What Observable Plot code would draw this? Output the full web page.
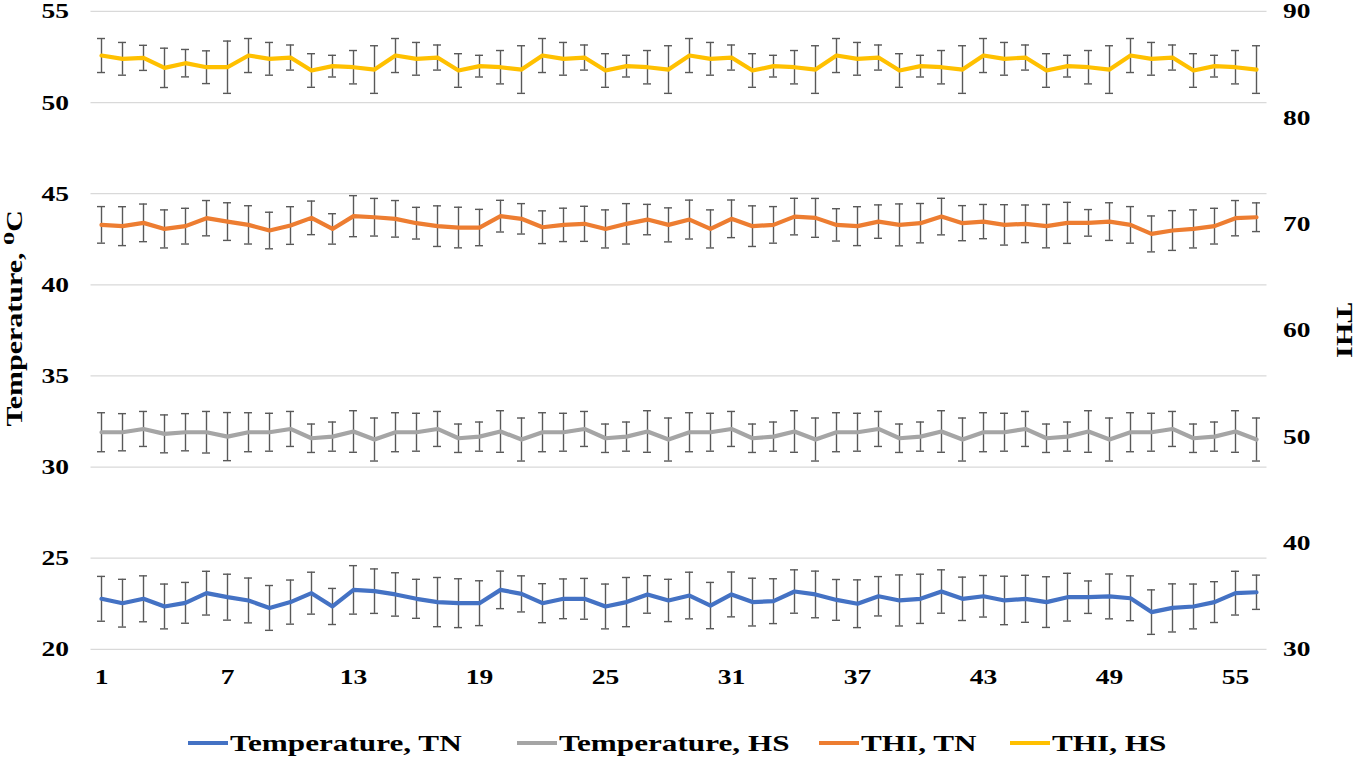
<!DOCTYPE html>
<html>
<head>
<meta charset="utf-8">
<script src="https://cdn.jsdelivr.net/npm/d3@7"></script>
<script src="https://cdn.jsdelivr.net/npm/@observablehq/plot@0.6"></script>
<style>
  html, body { margin: 0; padding: 0; background: #fff; }
  #wrap { width: 1359px; height: 760px; position: relative; overflow: hidden; font-family: "Liberation Serif", "DejaVu Serif", serif; }
  #legend { position: absolute; left: 0; top: 726px; width: 1359px; height: 34px; font-weight: bold; font-size: 24px; color: #000; }
  .sw { position: absolute; top: 15px; width: 40px; height: 4px; }
  .tx { position: absolute; top: 1px; white-space: nowrap; transform: scaleX(1.3); transform-origin: left center; line-height: 32px; }
</style>
</head>
<body>
<div id="wrap"><div id="chart"></div><div id="legend"></div></div>
<script>
const days = [1,2,3,4,5,6,7,8,9,10,11,12,13,14,15,16,17,18,19,20,21,22,23,24,25,26,27,28,29,30,31,32,33,34,35,36,37,38,39,40,41,42,43,44,45,46,47,48,49,50,51,52,53,54,55,56];
const xTicks = [1,7,13,19,25,31,37,43,49,55];
const tempTicks = [20,25,30,35,40,45,50,55];
const thiTicks = [30,40,50,60,70,80,90];

const seriesNames = ["Temperature, TN","Temperature, HS","THI, TN","THI, HS"];
const seriesColors = ["#4472C4","#A5A5A5","#ED7D31","#FFC000"];

const tempTN = [22.77,22.53,22.77,22.35,22.55,23.08,22.86,22.68,22.27,22.59,23.08,22.35,23.26,23.19,23.01,22.77,22.59,22.53,22.53,23.26,23.04,22.53,22.77,22.77,22.35,22.59,23.01,22.68,22.95,22.40,23.01,22.59,22.64,23.17,23.01,22.71,22.50,22.91,22.68,22.77,23.17,22.77,22.91,22.68,22.77,22.59,22.86,22.86,22.90,22.80,22.04,22.27,22.35,22.59,23.08,23.13];
const tempTNsd = [1.23,1.31,1.26,1.23,1.12,1.20,1.26,1.23,1.23,1.21,1.15,0.99,1.33,1.22,1.19,1.07,1.35,1.34,1.23,1.03,0.99,1.07,1.09,1.12,1.23,1.35,1.03,1.16,1.28,1.27,1.23,1.31,1.23,1.19,1.28,1.12,1.31,1.08,1.40,1.35,1.19,1.19,1.14,1.33,1.29,1.39,1.31,0.89,1.23,1.23,1.22,1.32,1.23,1.12,1.20,0.94];

const tempHS = [31.91,31.91,32.09,31.82,31.91,31.91,31.67,
  31.91,31.91,32.09,31.58,31.67,31.95,31.51,
  31.91,31.91,32.09,31.58,31.67,31.95,31.51,
  31.91,31.91,32.09,31.58,31.67,31.95,31.51,
  31.91,31.91,32.09,31.58,31.67,31.95,31.51,
  31.91,31.91,32.09,31.58,31.67,31.95,31.51,
  31.91,31.91,32.09,31.58,31.67,31.95,31.51,
  31.91,31.91,32.09,31.58,31.67,31.95,31.51];
const tempHSsd = [1.07,1.02,0.96,1.04,1.02,1.14,1.32,
  1.07,1.04,0.96,0.78,0.80,1.14,1.18,
  1.07,1.04,0.96,0.78,0.80,1.14,1.18,
  1.07,1.04,0.96,0.78,0.80,1.14,1.18,
  1.07,1.04,0.96,0.78,0.80,1.14,1.18,
  1.07,1.04,0.96,0.78,0.80,1.14,1.18,
  1.07,1.04,0.96,0.78,0.80,1.14,1.18,
  1.07,1.04,0.96,0.78,0.80,1.14,1.18];

const thiTN = [69.92,69.80,70.11,69.54,69.80,70.55,70.23,69.92,69.39,69.86,70.58,69.54,70.74,70.64,70.49,70.08,69.80,69.67,69.67,70.74,70.49,69.70,69.92,70.02,69.54,70.02,70.42,69.92,70.42,69.54,70.49,69.80,69.92,70.70,70.58,69.92,69.80,70.23,69.92,70.08,70.70,70.08,70.23,69.92,70.02,69.80,70.11,70.11,70.23,69.92,69.07,69.39,69.54,69.80,70.55,70.64];
const thiTNsd = [1.72,1.83,1.77,1.79,1.68,1.66,1.77,1.80,1.72,1.77,1.58,1.43,1.93,1.77,1.72,1.49,1.91,1.91,1.71,1.49,1.43,1.54,1.57,1.65,1.79,1.90,1.43,1.60,1.83,1.79,1.77,1.91,1.72,1.72,1.83,1.52,1.83,1.57,1.97,1.85,1.72,1.65,1.61,1.90,1.77,2.04,1.93,1.25,1.77,1.72,1.69,1.87,1.79,1.68,1.66,1.35];

const thiHS = [85.85,85.54,85.63,84.69,85.13,84.75,84.75,
  85.85,85.54,85.66,84.44,84.85,84.75,84.53,
  85.85,85.54,85.66,84.44,84.85,84.75,84.53,
  85.85,85.54,85.66,84.44,84.85,84.75,84.53,
  85.85,85.54,85.66,84.44,84.85,84.75,84.53,
  85.85,85.54,85.66,84.44,84.85,84.75,84.53,
  85.85,85.54,85.66,84.44,84.85,84.75,84.53,
  85.85,85.54,85.66,84.44,84.85,84.75,84.53];
const thiHSsd = [1.60,1.54,1.18,1.85,1.29,1.54,2.46,
  1.60,1.54,1.18,1.58,1.02,1.57,2.24,
  1.60,1.54,1.18,1.58,1.02,1.57,2.24,
  1.60,1.54,1.18,1.58,1.02,1.57,2.24,
  1.60,1.54,1.18,1.58,1.02,1.57,2.24,
  1.60,1.54,1.18,1.58,1.02,1.57,2.24,
  1.60,1.54,1.18,1.58,1.02,1.57,2.24,
  1.60,1.54,1.18,1.58,1.02,1.57,2.24];

// THI (right axis, 30–90) mapped onto the temperature axis (20–55)
const thiToT = v => 20 + (v - 30) * 35 / 60;
const tToThi = t => 30 + (t - 20) * 60 / 35;

function build(name, vals, sds, conv) {
  return days.map((d, i) => ({
    series: name, day: d,
    y: conv(vals[i]), lo: conv(vals[i] - sds[i]), hi: conv(vals[i] + sds[i])
  }));
}
const id = v => v;
const groups = [
  build(seriesNames[0], tempTN, tempTNsd, id),
  build(seriesNames[1], tempHS, tempHSsd, id),
  build(seriesNames[2], thiTN, thiTNsd, thiToT),
  build(seriesNames[3], thiHS, thiHSsd, thiToT)
];

const errColor = "#595959";
const cap = 0.19;
const marks = [
  Plot.gridY(tempTicks, {stroke: "#d9d9d9", strokeOpacity: 1, strokeWidth: 1.3})
];
groups.forEach((g, k) => {
  marks.push(Plot.ruleX(g, {x: "day", y1: "lo", y2: "hi", stroke: errColor, strokeWidth: 1.4}));
  marks.push(Plot.ruleY(g, {y: "lo", x1: d => d.day - cap, x2: d => d.day + cap, stroke: errColor, strokeWidth: 1.4}));
  marks.push(Plot.ruleY(g, {y: "hi", x1: d => d.day - cap, x2: d => d.day + cap, stroke: errColor, strokeWidth: 1.4}));
  marks.push(Plot.line(g, {x: "day", y: "y", stroke: seriesColors[k], strokeWidth: 4.2, strokeLinejoin: "round"}));
});
marks.push(
  Plot.axisX({ticks: xTicks, tickSize: 0, tickPadding: 19, tickFormat: d => String(d), label: null, fontWeight: "bold"}),
  Plot.axisY({anchor: "left", ticks: tempTicks, tickSize: 0, tickPadding: 22, label: null, fontWeight: "bold"}),
  Plot.axisY({anchor: "right", ticks: thiTicks.map(thiToT), tickSize: 0, tickPadding: 16, tickFormat: t => String(Math.round(tToThi(t))), label: null, fontWeight: "bold"}),
  Plot.text(["Temperature, \u2070C"], {frameAnchor: "left", textAnchor: "middle", dx: -77, dy: -12, rotate: -90, fontWeight: "bold", fontSize: 24}),
  Plot.text(["THI"], {frameAnchor: "right", textAnchor: "middle", dx: 78, dy: 0, rotate: 90, fontWeight: "bold", fontSize: 24})
);

const chart = Plot.plot({
  width: 1359, height: 720,
  marginLeft: 90.5, marginRight: 92.5, marginTop: 10.9, marginBottom: 71.2,
  x: {type: "linear", domain: [0.5, 56.5]},
  y: {type: "linear", domain: [20, 55]},
  style: {fontFamily: "Liberation Serif, DejaVu Serif, serif", fontSize: "22px", color: "#000", background: "#fff", overflow: "visible"},
  marks
});
// widen glyphs horizontally (along reading direction) to match the reference's stretched lettering
chart.querySelectorAll("text").forEach(t => {
  const tr = t.getAttribute("transform");
  if (tr) t.setAttribute("transform", tr + " scale(1.25,1)");
});
document.getElementById("chart").appendChild(chart);

const legend = document.getElementById("legend");
const legendX = [188, 517, 819, 1010];
seriesNames.forEach((n, k) => {
  const sw = document.createElement("span");
  sw.className = "sw";
  sw.style.left = legendX[k] + "px";
  sw.style.background = seriesColors[k];
  const tx = document.createElement("span");
  tx.className = "tx";
  tx.style.left = (legendX[k] + 42) + "px";
  tx.textContent = n;
  legend.appendChild(sw); legend.appendChild(tx);
});
</script>
</body>
</html>
